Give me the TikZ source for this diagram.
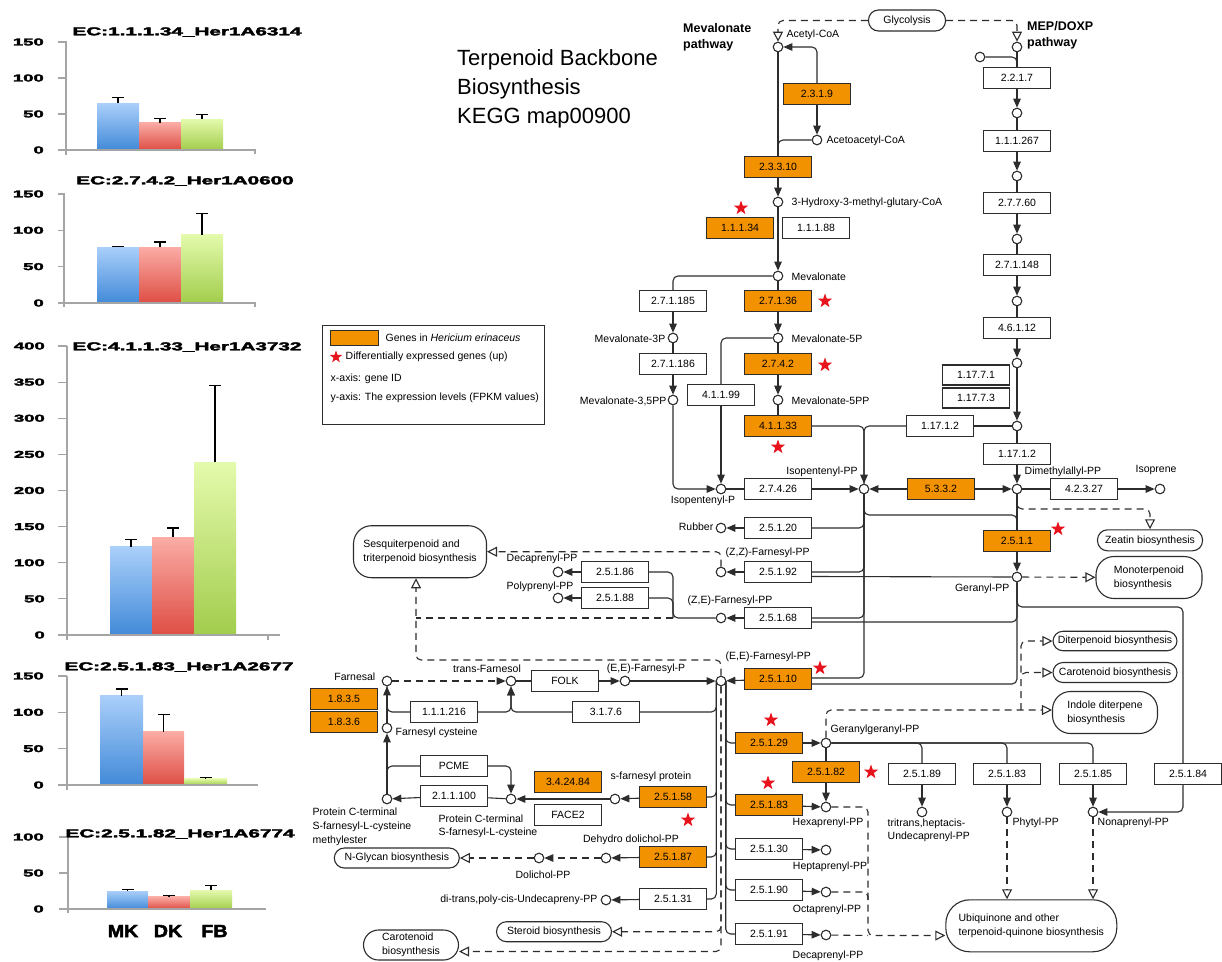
\documentclass[tikz,border=0pt]{standalone}
\usepackage{fontspec}
\setmainfont{Liberation Sans}
\newfontfamily\heavy{Liberation Sans}[FakeBold=2.6]
\usepackage{graphicx}
\usetikzlibrary{arrows.meta,shapes.geometric}
\pgfdeclarelayer{bg}
\pgfdeclarelayer{paper}
\pgfsetlayers{paper,bg,main}
\definecolor{ora}{RGB}{243,146,0}
\definecolor{lc}{RGB}{45,45,45}
\definecolor{axg}{RGB}{165,165,165}
\definecolor{blueT}{RGB}{170,207,250}
\definecolor{blueB}{RGB}{66,138,216}
\definecolor{redT}{RGB}{250,172,165}
\definecolor{redB}{RGB}{222,78,68}
\definecolor{greenT}{RGB}{228,250,172}
\definecolor{greenB}{RGB}{162,205,76}
\definecolor{starred}{RGB}{232,18,28}
\newcommand\sx[2]{\scalebox{#1}[1]{#2}}
\newcommand\cbar[7]{%
  \pgfmathsetmacro\yt{#3-(#5)*(#4)}%
  \pgfmathsetmacro\ye{#3-(#6)*(#4)}%
  \pgfmathsetmacro\xm{(#1+#2)/2}%
  \shade[top color=#7T,bottom color=#7B] (#1,\yt) rectangle (#2,#3);
  \draw[errb] (\xm,\yt) -- (\xm,\ye) (\xm-6,\ye) -- (\xm+6,\ye);
}
\tikzset{
  fs/.style={font=\fontsize{10.5}{12.6}\selectfont},
  ec/.style={draw=lc,line width=1.1pt,fill=white,minimum width=67pt,minimum height=21pt,inner sep=0pt,fs},
  eco/.style={ec,fill=ora},
  cpd/.style={circle,draw=lc,line width=1.1pt,fill=white,minimum size=9.6pt,inner sep=0pt},
  lab/.style={inner sep=0.5pt,fs},
  mapbox/.style={draw=lc,line width=1.1pt,fill=white,inner sep=0pt,rounded corners=#1,font=\fontsize{10.5}{14}\selectfont,align=left},
  mapbox/.default=10pt,
  arr/.style={-{Triangle[length=9pt,width=7.5pt]}},
  oarr/.style={-{Triangle[open,length=10pt,width=10pt]}},
  sarr/.style={{Triangle[length=9pt,width=7.5pt]}-},
  dsh/.style={dash pattern=on 7pt off 5pt},
  rc/.style={rounded corners=5pt},
  stp/.style={star,star points=5,star point ratio=2.5,fill=starred,draw=none,minimum size=15pt,inner sep=0pt},
  axl/.style={draw=axg,line width=1.2pt},
  errb/.style={draw=black,line width=1.3pt},
  ylab/.style={font=\heavy\bfseries\fontsize{10}{10}\selectfont,inner sep=0pt,anchor=east},
  ctit/.style={font=\heavy\bfseries\fontsize{11.5}{12}\selectfont,inner sep=0pt},
}
\begin{document}
\begin{tikzpicture}[x=1pt,y=-1pt]
\useasboundingbox (0,0) rectangle (1222,961);
\begin{pgfonlayer}{paper}
\fill[white] (0,0) rectangle (1222,961);
\end{pgfonlayer}

% ================= charts =================
% chart 1
\cbar{97}{139}{150}{0.72}{65}{73}{blue}
\cbar{139}{181}{150}{0.72}{38}{44}{red}
\cbar{181}{223}{150}{0.72}{43}{49}{green}
\draw[axl] (66,41) -- (66,155);
\draw[axl] (58,150) -- (255,150) -- (255,154);
\foreach \v in {50,100,150} \draw[axl] (58,{150-\v*0.72}) -- (66,{150-\v*0.72});
\foreach \v in {0,50,100,150} \node[ylab] (ca\v) at (44,{150-\v*0.72}) {\sx{1.85}{\v}};
\node[ctit] (cat) at (187,32) {\sx{1.8}{EC:1.1.1.34\_Her1A6314}};
% chart 2
\cbar{97}{139}{303}{0.727}{77}{78}{blue}
\cbar{139}{181}{303}{0.727}{77}{84}{red}
\cbar{181}{223}{303}{0.727}{94}{123}{green}
\draw[axl] (64,193) -- (64,307);
\draw[axl] (58,303) -- (255,303) -- (255,307);
\foreach \v in {50,100,150} \draw[axl] (58,{303-\v*0.727}) -- (64,{303-\v*0.727});
\foreach \v in {0,50,100,150} \node[ylab] (cb\v) at (44,{303-\v*0.727}) {\sx{1.85}{\v}};
\node[ctit] (cbt) at (185,181) {\sx{1.8}{EC:2.7.4.2\_Her1A0600}};
% chart 3
\cbar{110}{152}{635}{0.7225}{122}{132}{blue}
\cbar{152}{194}{635}{0.7225}{135}{148}{red}
\cbar{194}{236}{635}{0.7225}{239}{345}{green}
\draw[axl] (67,346) -- (67,640);
\draw[axl] (58,635) -- (280,635);
\draw[axl] (268,635) -- (268,640);
\foreach \v in {50,100,...,400} \draw[axl] (58,{635-\v*0.7225}) -- (67,{635-\v*0.7225});
\foreach \v in {0,50,100,...,400} \node[ylab] (cc\v) at (45,{635-\v*0.7225}) {\sx{1.85}{\v}};
\node[ctit] (cct) at (187,347) {\sx{1.8}{EC:4.1.1.33\_Her1A3732}};
% chart 4
\cbar{100}{143}{785}{0.727}{123}{132}{blue}
\cbar{143}{184}{785}{0.727}{73}{97}{red}
\cbar{184}{227}{785}{0.727}{9}{10}{green}
\draw[axl] (67,676) -- (67,790);
\draw[axl] (58,785) -- (258,785);
\foreach \v in {50,100,150} \draw[axl] (58,{785-\v*0.727}) -- (67,{785-\v*0.727});
\foreach \v in {0,50,100,150} \node[ylab] (cd\v) at (44,{785-\v*0.727}) {\sx{1.85}{\v}};
\node[ctit] (cdt) at (179,667) {\sx{1.8}{EC:2.5.1.83\_Her1A2677}};
% chart 5
\cbar{107}{148}{909}{0.72}{25}{27}{blue}
\cbar{148}{190}{909}{0.72}{17}{19}{red}
\cbar{190}{232}{909}{0.72}{26}{33}{green}
\draw[axl] (68,835) -- (68,913);
\draw[axl] (59,909) -- (266,909);
\foreach \v in {50,100} \draw[axl] (59,{909-\v*0.72}) -- (68,{909-\v*0.72});
\foreach \v in {0,50,100} \node[ylab] (ce\v) at (44,{909-\v*0.72}) {\sx{1.85}{\v}};
\node[ctit] (cet) at (180,834) {\sx{1.8}{EC:2.5.1.82\_Her1A6774}};
\node[font=\heavy\bfseries\fontsize{17.5}{18}\selectfont,inner sep=0pt] (xmk) at (123,931) {\sx{1.12}{MK}};
\node[font=\heavy\bfseries\fontsize{17.5}{18}\selectfont,inner sep=0pt] (xdk) at (168,931) {\sx{1.12}{DK}};
\node[font=\heavy\bfseries\fontsize{17.5}{18}\selectfont,inner sep=0pt] (xfb) at (214.5,931) {\sx{1.12}{FB}};

% ================= title and legend =================
\node[anchor=base west,font=\fontsize{22}{26}\selectfont,inner sep=0pt] (ttl1) at (457,65) {Terpenoid Backbone};
\node[anchor=base west,font=\fontsize{22}{26}\selectfont,inner sep=0pt] (ttl2) at (457,94) {Biosynthesis};
\node[anchor=base west,font=\fontsize{22}{26}\selectfont,inner sep=0pt] (ttl3) at (457,123) {KEGG map00900};
\node[font=\bfseries\fontsize{12.5}{16}\selectfont,align=left,anchor=west,inner sep=0pt] (mevpw) at (683,37) {Mevalonate\\pathway};
\node[font=\bfseries\fontsize{12.5}{16}\selectfont,align=left,anchor=west,inner sep=0pt] (meppw) at (1027,35) {MEP/DOXP\\pathway};

\node[draw=lc,line width=1pt,minimum width=221.6pt,minimum height=98.6pt,inner sep=0pt] (legend) at (433.5,375) {};
\node[fill=ora,draw=lc,line width=0.8pt,minimum width=48pt,minimum height=15.7pt,inner sep=0pt] (legora) at (354.2,337.9) {};
\node[lab,anchor=west] (leg1) at (385,337.7) {Genes in \textit{Hericium erinaceus}};
\node[stp,minimum size=13pt] (legstar) at (336,357) {};
\node[lab,anchor=west] (leg2) at (345,356.7) {Differentially expressed genes (up)};
\node[lab,anchor=west] (leg3) at (330,378.3) {x-axis: gene ID};
\node[lab,anchor=west] (leg4) at (330,397.7) {y-axis: The expression levels (FPKM values)};

% ================= compounds =================
\node[cpd] (acoa) at (778,47) {};
\node[cpd] (mep0) at (1017,47) {};
\node[cpd] (mepin) at (980,57) {};
\node[cpd] (aacoa) at (817,140) {};
\node[cpd] (hmg) at (778,202) {};
\node[cpd] (mev) at (778,276) {};
\node[cpd] (mev3p) at (673,338) {};
\node[cpd] (mev5p) at (778,338) {};
\node[cpd] (mev35) at (673,400) {};
\node[cpd] (mev5pp) at (778,400) {};
\node[cpd] (mep1) at (1017,113) {};
\node[cpd] (mep2) at (1017,176) {};
\node[cpd] (mep3) at (1017,239) {};
\node[cpd] (mep4) at (1017,301) {};
\node[cpd] (mep5) at (1017,363) {};
\node[cpd] (mep6) at (1017,426) {};
\node[cpd] (ippp) at (721,489) {};
\node[cpd] (ipp) at (864,489) {};
\node[cpd] (dmapp) at (1017,489) {};
\node[cpd] (isoprene) at (1160,489) {};
\node[cpd] (rubber) at (721,528) {};
\node[cpd] (zzfpp) at (721,572) {};
\node[cpd] (zefpp) at (721,618) {};
\node[cpd] (decapp) at (558,572) {};
\node[cpd] (polypp) at (558,598) {};
\node[cpd] (gpp) at (1017,577) {};
\node[cpd] (eefpp) at (721,681) {};
\node[cpd] (eefp) at (625,681) {};
\node[cpd] (farnesol) at (511,681) {};
\node[cpd] (farnesal) at (387,681) {};
\node[cpd] (fcys) at (387,728) {};
\node[cpd] (methyl) at (387,799) {};
\node[cpd] (pcys) at (511,799) {};
\node[cpd] (sfp) at (615,799) {};
\node[cpd] (dehydro) at (606,858) {};
\node[cpd] (dolichol) at (539,858) {};
\node[cpd] (undeca) at (606,900) {};
\node[cpd] (ggpp) at (826,743) {};
\node[cpd] (hexapp) at (826,807) {};
\node[cpd] (heptapp) at (826,850) {};
\node[cpd] (octapp) at (826,892) {};
\node[cpd] (decapp2) at (826,935) {};
\node[cpd] (tritrans) at (922,812) {};
\node[cpd] (phytyl) at (1007,812) {};
\node[cpd] (nonapp) at (1093,812) {};

% ================= enzymes =================
\node[eco] (e2319) at (817,94) {2.3.1.9};
\node[eco] (e23310) at (778,167) {2.3.3.10};
\node[eco] (e11134) at (740,228) {1.1.1.34};
\node[ec] (e11188) at (816,228) {1.1.1.88};
\node[ec] (e2217) at (1017,78) {2.2.1.7};
\node[ec] (e111267) at (1017,141) {1.1.1.267};
\node[ec] (e27760) at (1017,203) {2.7.7.60};
\node[ec] (e271148) at (1017,265) {2.7.1.148};
\node[ec] (e46112) at (1017,328) {4.6.1.12};
\node[ec,minimum height=20pt] (e11771) at (976,375) {1.17.7.1};
\node[ec,minimum height=20pt] (e11773) at (976,398) {1.17.7.3};
\node[ec] (e11712a) at (940,426) {1.17.1.2};
\node[ec] (e11712b) at (1017,454) {1.17.1.2};
\node[ec] (e271185) at (673,301) {2.7.1.185};
\node[ec] (e271186) at (673,364) {2.7.1.186};
\node[eco] (e27136) at (778,301) {2.7.1.36};
\node[eco] (e2742) at (778,364) {2.7.4.2};
\node[ec] (e41199) at (721,395) {4.1.1.99};
\node[eco] (e41133) at (778,426) {4.1.1.33};
\node[ec] (e27426) at (778,489) {2.7.4.26};
\node[eco] (e5332) at (941,489) {5.3.3.2};
\node[ec] (e42327) at (1084,489) {4.2.3.27};
\node[eco] (e2511) at (1017,541) {2.5.1.1};
\node[ec] (e25120) at (778,528) {2.5.1.20};
\node[ec] (e25192) at (778,572) {2.5.1.92};
\node[ec] (e25168) at (778,618) {2.5.1.68};
\node[eco] (e25110) at (778,679) {2.5.1.10};
\node[ec] (e25186) at (615,572) {2.5.1.86};
\node[ec] (e25188) at (615,598) {2.5.1.88};
\node[ec] (e11216) at (444,712) {1.1.1.216};
\node[ec] (e3176) at (606,712) {3.1.7.6};
\node[ec] (folk) at (565,681) {FOLK};
\node[eco] (e1835) at (344,699) {1.8.3.5};
\node[eco] (e1836) at (344,722) {1.8.3.6};
\node[ec] (pcme) at (454,766) {PCME};
\node[ec] (e211100) at (454,796) {2.1.1.100};
\node[eco] (e342484) at (568,782) {3.4.24.84};
\node[ec] (face2) at (568,815) {FACE2};
\node[eco] (e25158) at (673,797) {2.5.1.58};
\node[eco] (e25187) at (673,857) {2.5.1.87};
\node[ec] (e25131) at (673,899) {2.5.1.31};
\node[eco] (e25129) at (769,743) {2.5.1.29};
\node[eco] (e25182) at (826,772) {2.5.1.82};
\node[eco] (e25183a) at (769,805) {2.5.1.83};
\node[ec] (e25130) at (769,849) {2.5.1.30};
\node[ec] (e25190) at (769,890) {2.5.1.90};
\node[ec] (e25191) at (769,934) {2.5.1.91};
\node[ec] (e25189) at (922,774) {2.5.1.89};
\node[ec] (e25183b) at (1007,774) {2.5.1.83};
\node[ec] (e25185) at (1093,774) {2.5.1.85};
\node[ec] (e25184) at (1188,774) {2.5.1.84};

% ================= map boxes =================
\node[mapbox,minimum width=77pt,minimum height=21pt] (glyco) at (907,20.5) {Glycolysis};
\node[mapbox=18pt,minimum width=133pt,minimum height=52pt] (sesq) at (420,551.7) {Sesquiterpenoid and\\triterpenoid biosynthesis};
\node[mapbox,minimum width=105pt,minimum height=21pt] (zeatin) at (1150,540.3) {Zeatin biosynthesis};
\node[mapbox=18pt,minimum width=106pt,minimum height=42pt] (mono) at (1149,577.5) {Monoterpenoid\\biosynthesis};
\node[mapbox,minimum width=124pt,minimum height=19.5pt] (diter) at (1115,641) {Diterpenoid biosynthesis};
\node[mapbox,minimum width=124pt,minimum height=20pt] (carot1) at (1115,672.5) {Carotenoid biosynthesis};
\node[mapbox=18pt,minimum width=105pt,minimum height=42pt] (indole) at (1105,712.5) {Indole diterpene\\biosynthesis};
\node[mapbox=24pt,minimum width=171pt,minimum height=52pt] (ubi) at (1031.3,925.8) {Ubiquinone and other\\terpenoid-quinone biosynthesis};
\node[mapbox,minimum width=125pt,minimum height=20pt] (nglycan) at (396.8,858) {N-Glycan biosynthesis};
\node[mapbox,minimum width=115pt,minimum height=20pt] (steroid) at (554,931.7) {Steroid biosynthesis};
\node[mapbox=15pt,minimum width=95pt,minimum height=30pt] (carot2) at (411,945) {Carotenoid\\biosynthesis};

% ================= stars =================
\node[stp] (s1) at (741,208) {};
\node[stp] (s2) at (825,301) {};
\node[stp] (s3) at (825,365) {};
\node[stp] (s4) at (778,447) {};
\node[stp] (s5) at (1058,529) {};
\node[stp] (s6) at (820,668) {};
\node[stp] (s7) at (771,720) {};
\node[stp] (s8) at (871,772) {};
\node[stp] (s9) at (768,783) {};
\node[stp] (s10) at (688,820) {};

% ================= labels =================
\node[lab,anchor=west] (lacoa) at (786,35) {Acetyl-CoA};
\node[lab,anchor=west] (laacoa) at (826,141) {Acetoacetyl-CoA};
\node[lab,anchor=west] (lhmg) at (791,203) {3-Hydroxy-3-methyl-glutary-CoA};
\node[lab,anchor=west] (lmev) at (791,277) {Mevalonate};
\node[lab,anchor=east] (lmev3p) at (666,339) {Mevalonate-3P};
\node[lab,anchor=west] (lmev5p) at (791,339) {Mevalonate-5P};
\node[lab,anchor=east] (lmev35) at (667,401) {Mevalonate-3,5PP};
\node[lab,anchor=west] (lmev5pp) at (791,401) {Mevalonate-5PP};
\node[lab] (lippp) at (703,501) {Isopentenyl-P};
\node[lab] (lipp) at (822,472) {Isopentenyl-PP};
\node[lab,anchor=west] (ldmapp) at (1024,472) {Dimethylallyl-PP};
\node[lab] (liso) at (1156,470) {Isoprene};
\node[lab,anchor=east] (lrub) at (714,527) {Rubber};
\node[lab,anchor=west] (lzz) at (725,553) {(Z,Z)-Farnesyl-PP};
\node[lab,anchor=west] (lze) at (687,601) {(Z,E)-Farnesyl-PP};
\node[lab] (ldeca) at (542,559) {Decaprenyl-PP};
\node[lab] (lpoly) at (540,586.5) {Polyprenyl-PP};
\node[lab,anchor=east] (lgpp) at (1010,589) {Geranyl-PP};
\node[lab,anchor=west] (leefpp) at (725,657) {(E,E)-Farnesyl-PP};
\node[lab] (leefp) at (646,669) {(E,E)-Farnesyl-P};
\node[lab] (lfol) at (487,669) {trans-Farnesol};
\node[lab,anchor=east] (lfal) at (376,677) {Farnesal};
\node[lab,anchor=west] (lfcys) at (395,733) {Farnesyl cysteine};
\node[lab,anchor=west,align=left,font=\fontsize{10.5}{14}\selectfont] (lmethyl) at (312,826.7) {Protein C-terminal\\S-farnesyl-L-cysteine\\methylester};
\node[lab,anchor=west,align=left,font=\fontsize{10.5}{13.4}\selectfont] (lpcys) at (438,826) {Protein C-terminal\\S-farnesyl-L-cysteine};
\node[lab,anchor=west] (lsfp) at (610,777) {s-farnesyl protein};
\node[lab] (ldehy) at (631,840) {Dehydro dolichol-PP};
\node[lab] (ldol) at (543,875) {Dolichol-PP};
\node[lab,anchor=east] (lundeca) at (598,900) {di-trans,poly-cis-Undecapreny-PP};
\node[lab,anchor=west] (lggpp) at (830,730) {Geranylgeranyl-PP};
\node[lab] (lhexa) at (828,823) {Hexaprenyl-PP};
\node[lab] (lhepta) at (830,867) {Heptaprenyl-PP};
\node[lab] (locta) at (827,910) {Octaprenyl-PP};
\node[lab] (ldeca2) at (828,956) {Decaprenyl-PP};
\node[lab,anchor=west,align=left,font=\fontsize{10.5}{13.4}\selectfont] (ltri) at (887,830) {tritrans,heptacis-\\Undecaprenyl-PP};
\node[lab,anchor=west] (lphy) at (1012,823) {Phytyl-PP};
\node[lab,anchor=west] (lnona) at (1097,823) {Nonaprenyl-PP};

% helper coordinates
\coordinate (kz) at (1100,509);
\coordinate (k515) at (940,515);
\coordinate (k607) at (1100,607);
\coordinate (c673a) at (673,572);
\coordinate (c673b) at (673,618);
\coordinate (c416) at (416,618);
\coordinate (k660) at (600,660);
\coordinate (k868) at (868,935.5);
\coordinate (k898) at (868,900);
\coordinate (k1021) at (1021,710);
\coordinate (k1021b) at (1021,672.5);

% ================= connectors =================
\begin{pgfonlayer}{bg}
\begin{scope}[color=lc,line width=1.1pt]
% top / MEP
\draw[dsh,oarr,rc] (glyco.west) -| (acoa);
\draw[dsh,oarr,rc] (glyco.east) -| (mep0);
\draw[rc] (mepin) -| (e2217.north);
\draw (mep0) -- (e2217);
\draw[arr] (e2217) -- (mep1);
\draw (mep1) -- (e111267);
\draw[arr] (e111267) -- (mep2);
\draw (mep2) -- (e27760);
\draw[arr] (e27760) -- (mep3);
\draw (mep3) -- (e271148);
\draw[arr] (e271148) -- (mep4);
\draw (mep4) -- (e46112);
\draw[arr] (e46112) -- (mep5);
\draw[arr] (mep5) -- (mep6);
\draw (mep6) -- (e11712b);
\draw[arr] (e11712b) -- (dmapp);
\draw (e11712a) -- (mep6);
% mevalonate
\draw (acoa) -- (e23310);
\draw[sarr,rc] (acoa) -| (e2319.north);
\draw[arr] (e2319) -- (aacoa);
\draw[rc] (aacoa) -| (e23310.north);
\draw[arr] (e23310) -- (hmg);
\draw[arr] (hmg) -- (mev);
\draw (mev) -- (e27136);
\draw[arr] (e27136) -- (mev5p);
\draw (mev5p) -- (e2742);
\draw[arr] (e2742) -- (mev5pp);
\draw (mev5pp) -- (e41133);
\draw[rc] (mev) -| (e271185.north);
\draw[arr] (e271185) -- (mev3p);
\draw (mev3p) -- (e271186);
\draw[arr] (e271186) -- (mev35);
\draw[arr,rc] (mev35) |- (ippp);
\draw[rc] (mev5p) -| (e41199.north);
\draw[arr] (e41199) -- (ippp);
\draw (ippp) -- (e27426);
\draw[arr] (e27426) -- (ipp);
\draw[arr,rc] (e41133.east) -| (ipp);
\draw[rc] (e11712a.west) -| (ipp);
\draw[arr] (e5332) -- (ipp);
\draw[arr] (e5332) -- (dmapp);
\draw (dmapp) -- (e42327);
\draw[arr] (e42327) -- (isoprene);
\draw (dmapp) -- (e2511);
\draw[arr] (e2511) -- (gpp);
\draw[dsh,oarr,rc] (dmapp) |- (kz) -| (zeatin.north);
\draw[dsh,oarr] (gpp) -- (mono);
% IPP column
\draw[rc] (ipp) |- (k515) -| (e2511.north);
\draw[rc] (ipp) |- (e25120.east);
\draw[rc] (ipp) |- (e25192.east);
\draw[rc] (ipp) |- (e25168.east);
\draw[rc] (ipp) |- ([yshift=1pt]e25110.east);
\draw[arr] (e25120) -- (rubber);
\draw[arr] (e25192) -- (zzfpp);
\draw[arr] (e25168) -- (zefpp);
\draw[arr] (e25110) -- (eefpp);
\draw ([yshift=-4.5pt]e25192.east) -- (gpp);
\draw[rc] (gpp) |- ([yshift=-4pt]e25168.east);
\draw[rc] (gpp) |- ([yshift=-5pt]e25110.east);
\draw[rc] (gpp) |- (k607) -| ([xshift=-5pt]e25184.north);
\draw[arr,rc] ([xshift=-5pt]e25184.south) |- (nonapp);
% Z,E / Z,Z
\draw[rc] (zefpp) -| (c673a) -- (e25186.east);
\draw[rc] (e25188.east) -| (c673b);
\draw[arr] (e25186) -- (decapp);
\draw[arr] (e25188) -- (polypp);
\draw[dsh] (c673b) -- (c416);
\draw[dsh,oarr,rc] (zzfpp) |- (sesq.east);
\draw[dsh,oarr,rc] (eefpp) |- (k660) -| ([xshift=-4pt]sesq.south);
% FPP
\draw[arr] (eefp) -- (eefpp);
\draw (farnesol) -- (folk);
\draw[arr] (folk) -- (eefp);
\draw[dsh,arr] (farnesal) -- (farnesol);
\draw[rc] ([xshift=-4.7pt]eefpp.center) |- (e3176.east);
\draw[rc] ([xshift=-4.7pt]eefpp.center) |- (e25158.east);
\draw[rc] ([xshift=-4.7pt]eefpp.center) |- (e25187.east);
\draw[rc] ([xshift=-4.7pt]eefpp.center) |- (e25131.east);
\draw[rc] ([xshift=4.7pt]eefpp.center) |- (e25129.west);
\draw[rc] ([xshift=4.7pt]eefpp.center) |- (e25183a.west);
\draw[rc] ([xshift=4.7pt]eefpp.center) |- (e25130.west);
\draw[rc] ([xshift=4.7pt]eefpp.center) |- (e25190.west);
\draw[rc] ([xshift=4.7pt]eefpp.center) |- (e25191.west);
\draw[dsh,oarr,rc] (eefpp) |- (steroid.east);
\draw[dsh,oarr,rc] (eefpp) |- ([yshift=-6.5pt]carot2.east);
% farnesyl protein branch
\draw[arr] (e25158) -- (sfp);
\draw[arr] (sfp) -- (pcys);
\draw[arr,rc] (pcme.east) -| (pcys);
\draw[rc] (pcme.west) -| (methyl);
\draw (pcys) -- (e211100);
\draw[arr] (e211100) -- (methyl);
\draw[arr] (methyl) -- (fcys);
\draw[arr] (fcys) -- (farnesal);
\draw[rc] (farnesal) |- (e11216.west);
\draw[arr,rc] (e11216.east) -| (farnesol);
\draw[arr,rc] (e3176.west) -| (farnesol);
\draw[arr] (e25187) -- (dehydro);
\draw[dsh,arr] (dehydro) -- (dolichol);
\draw[dsh,oarr] (dolichol) -- (nglycan);
\draw[arr] (e25131) -- (undeca);
% GGPP
\draw[arr] (e25129) -- (ggpp);
\draw (ggpp) -- (e25182);
\draw[arr] (e25182) -- (hexapp);
\draw[arr] (e25183a) -- (hexapp);
\draw[arr] (e25130) -- (heptapp);
\draw[arr] (e25190) -- (octapp);
\draw[arr] (e25191) -- (decapp2);
\draw[rc] (ggpp) -| (e25189.north);
\draw[rc] (ggpp) -| (e25183b.north);
\draw[rc] (ggpp) -| (e25185.north);
\draw[arr] (e25189) -- (tritrans);
\draw[arr] (e25183b) -- (phytyl);
\draw[arr] (e25185) -- (nonapp);
\draw[dsh,oarr] (phytyl) -- (phytyl |- ubi.north);
\draw[dsh,oarr] (nonapp) -- (nonapp |- ubi.north);
\draw[dsh,oarr,rc] (hexapp) -| (k868) -- ([yshift=-9.7pt]ubi.west);
\draw[dsh] (decapp2) -- (k868);
\draw[dsh,rc] (octapp) -| (k898);
\draw[dsh,oarr,rc] (ggpp) |- ([yshift=2.5pt]indole.west);
\draw[dsh,oarr,rc] (k1021) |- (carot1.west);
\draw[dsh,oarr,rc] (k1021b) |- (diter.west);
\end{scope}
\end{pgfonlayer}
\end{tikzpicture}
\end{document}
